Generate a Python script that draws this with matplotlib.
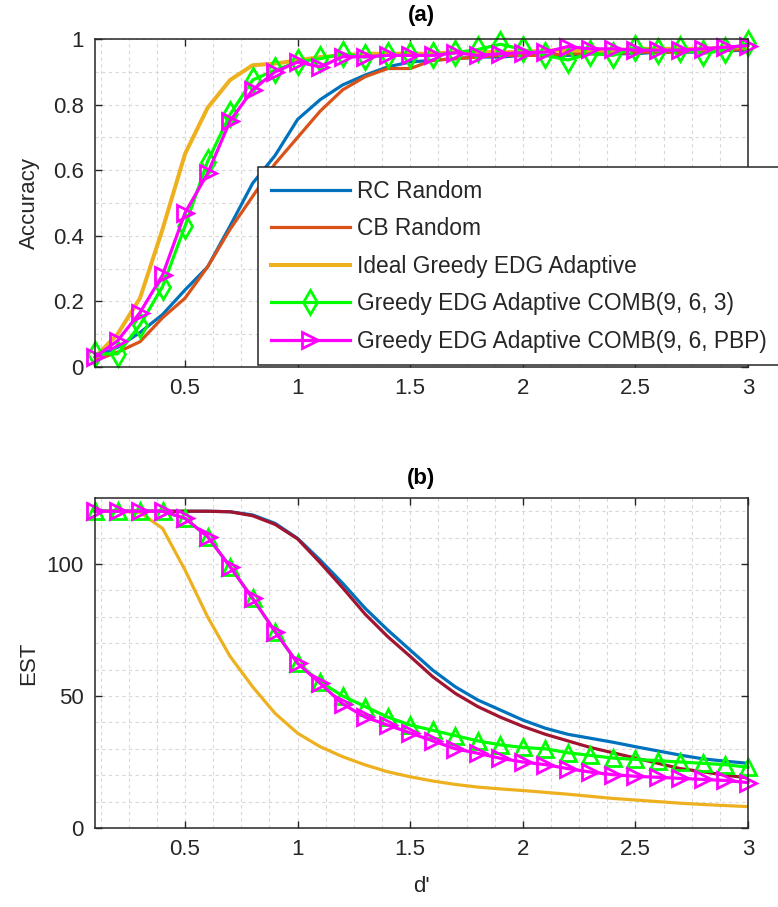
import numpy as np
import matplotlib
matplotlib.use("Agg")
import matplotlib.pyplot as plt
from matplotlib.ticker import MultipleLocator, FormatStrFormatter

plt.rcParams['font.family'] = ['Liberation Sans', 'DejaVu Sans']

# d' values
d_prime = [0.1, 0.2, 0.3, 0.4, 0.5, 0.6, 0.7, 0.8, 0.9, 1.0,
           1.1, 1.2, 1.3, 1.4, 1.5, 1.6, 1.7, 1.8, 1.9, 2.0,
           2.1, 2.2, 2.3, 2.4, 2.5, 2.6, 2.7, 2.8, 2.9, 3.0]

labels = ["RC Random", "CB Random", "Ideal Greedy EDG Adaptive",
          "Greedy EDG Adaptive COMB(9, 6, 3)", "Greedy EDG Adaptive COMB(9, 6, PBP)"]

# (a) accuracy
rc_acc = [0.03, 0.06, 0.105, 0.16, 0.235, 0.305, 0.43, 0.56, 0.645, 0.755,
          0.815, 0.86, 0.89, 0.915, 0.93, 0.935, 0.94, 0.945, 0.945, 0.95,
          0.95, 0.95, 0.955, 0.955, 0.955, 0.96, 0.96, 0.96, 0.965, 0.965]
cb_acc = [0.02, 0.045, 0.077, 0.15, 0.21, 0.305, 0.42, 0.52, 0.62, 0.70,
          0.78, 0.845, 0.885, 0.91, 0.91, 0.935, 0.94, 0.945, 0.95, 0.95,
          0.95, 0.955, 0.955, 0.955, 0.96, 0.96, 0.96, 0.965, 0.965, 0.97]
ideal_acc = [0.03, 0.10, 0.21, 0.42, 0.65, 0.79, 0.875, 0.92, 0.925, 0.935,
             0.945, 0.95, 0.955, 0.955, 0.955, 0.955, 0.96, 0.96, 0.96, 0.96,
             0.965, 0.965, 0.965, 0.965, 0.97, 0.97, 0.97, 0.97, 0.975, 0.975]
comb3_acc = [0.04, 0.04, 0.128, 0.245, 0.43, 0.626, 0.77, 0.875, 0.905, 0.93,
             0.94, 0.955, 0.945, 0.95, 0.95, 0.95, 0.958, 0.968, 0.984, 0.968,
             0.95, 0.936, 0.956, 0.95, 0.974, 0.963, 0.968, 0.956, 0.966, 0.987]
pbp_acc = [0.03, 0.08, 0.166, 0.28, 0.47, 0.59, 0.75, 0.845, 0.90, 0.93,
           0.915, 0.946, 0.946, 0.95, 0.95, 0.95, 0.958, 0.95, 0.955, 0.958,
           0.96, 0.977, 0.97, 0.97, 0.966, 0.966, 0.966, 0.97, 0.975, 0.98]

# (b) EST
rc_est = [120, 120, 120, 120, 120, 120, 119.8, 118.6, 115.4, 109.7,
          101.5, 92.7, 83.2, 75, 67.4, 59.8, 53.5, 48.5, 44.7, 40.9,
          37.8, 35.5, 34, 32.5, 30.8, 29.2, 27.6, 26.2, 25.3, 24.5]
cb_est = [120, 120, 120, 120, 120, 120, 119.8, 118.3, 115, 109.5,
          100.5, 91, 81, 72.5, 65, 57.3, 51, 46, 42, 38.5,
          35.5, 33, 30.5, 28.5, 26.5, 24.5, 22.5, 21.3, 20, 19]
ideal_est = [120, 120, 119.5, 113.5, 97.7, 80, 65, 53.5, 43.4, 35.9,
             30.8, 27, 23.9, 21.3, 19.4, 17.8, 16.5, 15.5, 14.8, 14.2,
             13.5, 12.8, 12, 11.2, 10.6, 10, 9.4, 8.9, 8.5, 8.1]
comb3_est = [120, 120, 120, 120, 117.3, 110.4, 99, 87, 74.4, 62.4,
             55.4, 50, 46, 42, 39, 37, 35, 33, 31.5, 30.5,
             30, 28.5, 27.5, 26.5, 26, 25.5, 25, 24.5, 24, 23]
pbp_est = [120, 120, 120, 120, 117.3, 110.4, 99, 87, 74.4, 62.4,
           54.8, 47, 42, 39, 36, 33, 30, 28.3, 26.4, 25,
           24, 22.5, 21.2, 20.2, 19.6, 19.2, 18.8, 18.4, 18, 17.2]

blue = '#0072BD'
orange = '#D95319'
yellow = '#EDB120'
darkred = '#A2142F'
green = '#00FF00'
magenta = '#FF00FF'
axcol = '#262626'
fs = 16

fig = plt.figure(figsize=(7.78, 9.07), dpi=100)
ax1 = fig.add_axes([0.1221, 0.5954, 0.8393, 0.3616])
ax2 = fig.add_axes([0.1221, 0.0871, 0.8393, 0.3638])


def style(ax):
    ax.set_xlim(0.1, 3)
    ax.xaxis.set_major_locator(MultipleLocator(0.5))
    ax.xaxis.set_minor_locator(MultipleLocator(0.125))
    ax.xaxis.set_major_formatter(FormatStrFormatter('%g'))
    ax.yaxis.set_major_formatter(FormatStrFormatter('%g'))
    ax.tick_params(which='major', direction='in', length=5, width=1,
                   top=True, right=True, labelsize=fs, colors=axcol, pad=8)
    ax.tick_params(which='minor', length=0, top=True, right=True)
    ax.grid(which='both', color='#d8d8d8', linestyle=(0, (3, 3)), linewidth=0.8)
    ax.set_axisbelow(True)
    for s in ax.spines.values():
        s.set_color(axcol)
        s.set_linewidth(1.1)


lw = 2.3
# top panel
ax1.plot(d_prime, rc_acc, color=blue, lw=lw, label=labels[0])
ax1.plot(d_prime, cb_acc, color=orange, lw=lw, label=labels[1])
ax1.plot(d_prime, ideal_acc, color=yellow, lw=lw + 0.6, label=labels[2])
ax1.plot(d_prime, comb3_acc, color=green, lw=lw, marker='d', ms=12, mfc='none',
         mew=2, label=labels[3], clip_on=False)
ax1.plot(d_prime, pbp_acc, color=magenta, lw=lw, marker='>', ms=11, mfc='none',
         mew=2, label=labels[4], clip_on=False)
style(ax1)
ax1.set_ylim(0, 1)
ax1.yaxis.set_major_locator(MultipleLocator(0.2))
ax1.yaxis.set_minor_locator(MultipleLocator(0.1))
ax1.set_ylabel('Accuracy', fontsize=fs, color=axcol)
ax1.yaxis.set_label_coords(-0.085, 0.5)
ax1.text(0.5, 1.073, '(a)', transform=ax1.transAxes, ha='center', va='center',
         fontsize=fs, fontweight='bold', color='black')

leg = ax1.legend(loc='upper left', bbox_to_anchor=(258 / 778, 1 - 167 / 907),
                 bbox_transform=fig.transFigure, borderaxespad=0, fontsize=16.4,
                 frameon=True, fancybox=False, edgecolor=axcol, framealpha=1,
                 handlelength=3.5, handletextpad=0.3, labelspacing=0.64,
                 borderpad=0.55)
leg.get_frame().set_linewidth(1.1)
for t in leg.get_texts():
    t.set_color(axcol)

# bottom panel
ax2.plot(d_prime, rc_est, color=blue, lw=lw)
ax2.plot(d_prime, cb_est, color=darkred, lw=lw)
ax2.plot(d_prime, ideal_est, color=yellow, lw=lw)
ax2.plot(d_prime, comb3_est, color=green, lw=lw, marker='^', ms=11, mfc='none',
         mew=2, clip_on=False)
ax2.plot(d_prime, pbp_est, color=magenta, lw=lw, marker='>', ms=11, mfc='none',
         mew=2, clip_on=False)
style(ax2)
ax2.set_ylim(0, 125)
ax2.yaxis.set_major_locator(MultipleLocator(50))
ax2.yaxis.set_minor_locator(MultipleLocator(10))
ax2.set_ylabel('EST', fontsize=fs, color=axcol)
ax2.yaxis.set_label_coords(-0.085, 0.5)
ax2.set_xlabel("d'", fontsize=fs, color=axcol)
ax2.xaxis.set_label_coords(0.5, -0.145)
ax2.text(0.5, 1.06, '(b)', transform=ax2.transAxes, ha='center', va='center',
         fontsize=fs, fontweight='bold', color='black')

fig.savefig('out.png', dpi=100)
